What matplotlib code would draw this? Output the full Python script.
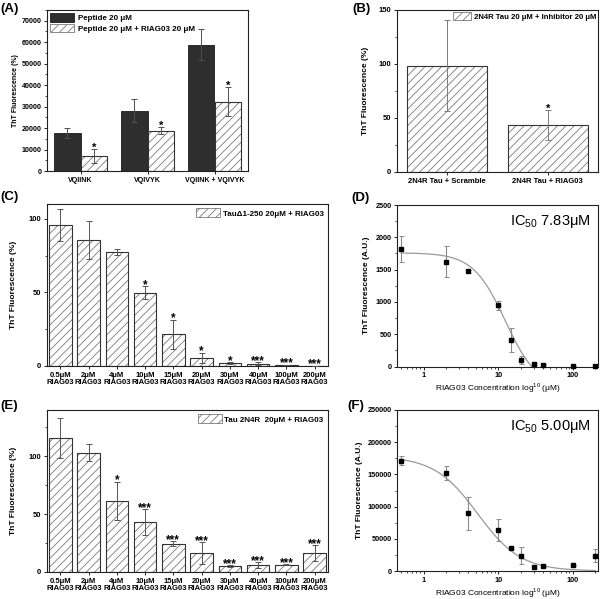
import numpy as np
import matplotlib
matplotlib.use("Agg")
import matplotlib.pyplot as plt
from matplotlib.ticker import AutoMinorLocator, FixedLocator, NullFormatter, LogLocator
from matplotlib.patches import Patch

plt.rcParams['font.family'] = ['Liberation Sans', 'DejaVu Sans']
plt.rcParams['font.weight'] = 'bold'
plt.rcParams['axes.labelweight'] = 'bold'
plt.rcParams['hatch.linewidth'] = 0.6
plt.rcParams['mathtext.fontset'] = 'custom'
plt.rcParams['mathtext.rm'] = 'Liberation Sans'

# ---------------- data ----------------
a_groups = ['VQIINK', 'VQIVYK', 'VQIINK + VQIVYK']
a_peptide = [17500, 28000, 58900]
a_peptide_err = [2300, 5400, 7200]
a_riag = [7000, 18700, 32200]
a_riag_err = [3200, 1600, 6700]
a_stars = ['*', '*', '*']

b_labels = ['2N4R Tau + Scramble', '2N4R Tau + RIAG03']
b_vals = [98.6, 43.5]
b_err = [42, 14]
b_stars = ['', '*']

conc_labels = ['0.5μM\nRIAG03', '2μM\nRIAG03', '4μM\nRIAG03', '10μM\nRIAG03',
               '15μM\nRIAG03', '20μM\nRIAG03', '30μM\nRIAG03', '40μM\nRIAG03',
               '100μM\nRIAG03', '200μM\nRIAG03']
c_vals = [95.9, 85.3, 77.4, 49.8, 21.5, 5.7, 2.0, 1.6, 0.7, 0.2]
c_err = [10.8, 12.9, 2.0, 4.2, 10.0, 3.4, 0.5, 0.8, 0.2, 0.1]
c_stars = ['', '', '', '*', '*', '*', '*', '***', '***', '***']

e_vals = [115.9, 103.2, 61.4, 43.2, 24.5, 16.4, 5.2, 5.8, 6.3, 16.4]
e_err = [17.5, 7.7, 16.6, 11.2, 1.9, 9.1, 0.6, 2.6, 0.5, 6.6]
e_stars = ['', '', '*', '***', '***', '***', '***', '***', '***', '***']

conc = [0.5, 2, 4, 10, 15, 20, 30, 40, 100, 200]
d_vals = [1820, 1624, 1474, 948, 412, 103, 36, 26, 5, 5]
d_err = [205, 237, 25, 70, 188, 65, 15, 8, 4, 4]
d_fit_top, d_fit_bottom, d_fit_x0, d_fit_p = 1760, -350, 12.5, 2.0

f_vals = [171000, 152400, 89900, 63500, 35600, 23800, 6200, 7700, 8800, 23800]
f_err = [7000, 10600, 25500, 16500, 1500, 13000, 800, 1000, 1000, 10300]
f_fit_top, f_fit_bottom, f_fit_x0, f_fit_p = 178000, 0, 5.3, 1.5

# ---------------- figure ----------------
W, H = 600, 599
fig = plt.figure(figsize=(6, 5.99), dpi=100)

def add_ax(x0, y0, x1, y1):
    return fig.add_axes([x0 / W, 1 - y1 / H, (x1 - x0) / W, (y1 - y0) / H])

EDGE = '#333333'
HATCHC = '#7a7a7a'
ERRC = '#555555'

def style(ax, ylabel, ylx, ysize=6, ylsize=5.5):
    for s in ax.spines.values():
        s.set_linewidth(0.8)
        s.set_color('#222222')
    ax.tick_params(axis='both', which='major', direction='out', length=2.5, width=0.6,
                   labelsize=ylsize, pad=1.5, top=False, right=False)
    ax.tick_params(axis='both', which='minor', direction='out', length=1.4, width=0.5,
                   top=False, right=False)
    ax.set_ylabel(ylabel, fontsize=ysize, fontweight='bold', va='center')
    ax.yaxis.set_label_coords(ylx, 0.5)

def hbars(ax, x, h, width):
    ax.bar(x, h, width, color='white', edgecolor=HATCHC, hatch='////', linewidth=0, zorder=2)
    ax.bar(x, h, width, fill=False, edgecolor=EDGE, linewidth=0.8, zorder=3)

def star_text(ax, x, top, s, size):
    ax.annotate(s, (x, top), xytext=(0, -1.2), textcoords='offset points',
                ha='center', va='baseline', fontsize=size, fontweight='bold', zorder=5)

def hatch_handle():
    return Patch(facecolor='white', edgecolor=HATCHC, hatch='////', linewidth=0.6)

# ---- Panel A ----
axA = add_ax(47, 10, 248, 171)
xa = np.arange(len(a_groups))
bw = 0.4
axA.bar(xa - bw / 2, a_peptide, bw, color='#2e2e2e', edgecolor='#1a1a1a', linewidth=0.6, zorder=2)
hbars(axA, xa + bw / 2, a_riag, bw)
axA.errorbar(xa - bw / 2, a_peptide, yerr=a_peptide_err, fmt='none', ecolor='#505050',
             elinewidth=0.7, capsize=2, capthick=0.7, zorder=4)
axA.errorbar(xa + bw / 2, a_riag, yerr=a_riag_err, fmt='none', ecolor='#505050',
             elinewidth=0.7, capsize=2, capthick=0.7, zorder=4)
for i, s in enumerate(a_stars):
    star_text(axA, xa[i] + bw / 2, a_riag[i] + a_riag_err[i], s, 8)
axA.set_xlim(-0.5, 2.5)
axA.set_ylim(0, 75000)
axA.set_yticks(np.arange(0, 70001, 10000))
axA.yaxis.set_minor_locator(AutoMinorLocator(2))
axA.set_xticks(xa)
axA.set_xticklabels(a_groups, fontsize=5)
style(axA, 'ThT Fluorescence (%)', -0.155, ysize=5, ylsize=5.1)
legA = axA.legend(handles=[Patch(facecolor='#2e2e2e', edgecolor='#1a1a1a', linewidth=0.6),
                           hatch_handle()],
                  labels=['Peptide 20 μM', 'Peptide 20 μM + RIAG03 20 μM'],
                  loc='upper left', frameon=False, fontsize=5.8, handlelength=3.0,
                  handleheight=1.3, handletextpad=0.4, borderaxespad=0.3, labelspacing=0.15,
                  borderpad=0.1)

# ---- Panel B ----
axB = add_ax(397, 10, 598, 172)
xb = np.arange(len(b_labels))
hbars(axB, xb, b_vals, 0.8)
axB.errorbar(xb, b_vals, yerr=b_err, fmt='none', ecolor='#7a7a7a', elinewidth=0.7,
             capsize=2, capthick=0.7, zorder=4)
for i, s in enumerate(b_stars):
    if s:
        star_text(axB, xb[i], b_vals[i] + b_err[i], s, 8)
axB.set_xlim(-0.5, 1.5)
axB.set_ylim(0, 150)
axB.set_yticks([0, 50, 100, 150])
axB.yaxis.set_minor_locator(AutoMinorLocator(2))
axB.set_xticks(xb)
axB.set_xticklabels(b_labels, fontsize=5)
style(axB, 'ThT Fluorescence (%)', -0.155)
axB.legend(handles=[hatch_handle()], labels=['2N4R Tau 20 μM + Inhibitor 20 μM'],
           loc='upper right', frameon=False, fontsize=5.6, handlelength=2.3,
           handleheight=1.2, handletextpad=0.3, borderaxespad=0.15, borderpad=0.1)

# ---- Panel C ----
axC = add_ax(47, 204, 328, 366)
xc = np.arange(len(conc_labels))
hbars(axC, xc, c_vals, 0.8)
axC.errorbar(xc, c_vals, yerr=c_err, fmt='none', ecolor=ERRC, elinewidth=0.7,
             capsize=2, capthick=0.7, zorder=4)
for i, s in enumerate(c_stars):
    if s:
        star_text(axC, xc[i], c_vals[i] + c_err[i], s, 8.5)
axC.set_xlim(-0.47, 9.47)
axC.set_ylim(0, 110)
axC.set_yticks([0, 50, 100])
axC.yaxis.set_minor_locator(AutoMinorLocator(2))
axC.set_xticks(xc)
axC.set_xticklabels(conc_labels, fontsize=4.8, linespacing=1.0)
style(axC, 'ThT Fluorescence (%)', -0.12)
axC.legend(handles=[hatch_handle()], labels=['TauΔ1-250 20μM + RIAG03'], loc='upper right',
           frameon=False, fontsize=5.8, handlelength=3.0, handleheight=1.3, handletextpad=0.3,
           borderaxespad=0.45, borderpad=0.1)

# ---- Panel E ----
axE = add_ax(47, 410, 328, 572)
hbars(axE, xc, e_vals, 0.8)
axE.errorbar(xc, e_vals, yerr=e_err, fmt='none', ecolor=ERRC, elinewidth=0.7,
             capsize=2, capthick=0.7, zorder=4)
for i, s in enumerate(e_stars):
    if s:
        star_text(axE, xc[i], e_vals[i] + e_err[i], s, 8.5)
axE.set_xlim(-0.47, 9.47)
axE.set_ylim(0, 140)
axE.set_yticks([0, 50, 100])
axE.yaxis.set_minor_locator(AutoMinorLocator(2))
axE.set_xticks(xc)
axE.set_xticklabels(conc_labels, fontsize=4.8, linespacing=1.0)
style(axE, 'ThT Fluorescence (%)', -0.12)
axE.legend(handles=[hatch_handle()], labels=['Tau 2N4R  20μM + RIAG03'], loc='upper right',
           frameon=False, fontsize=5.8, handlelength=3.0, handleheight=1.3, handletextpad=0.3,
           borderaxespad=0.45, borderpad=0.1)

# ---- Dose-response panels ----
def logistic(x, top, bottom, x0, p):
    return bottom + (top - bottom) / (1 + (x / x0) ** p)

def dose_panel(ax, vals, err, fit, ylim, yticks, ic_text, ylx):
    xs = np.geomspace(conc[0], conc[-1], 400)
    ax.plot(xs, logistic(xs, *fit), color='#9a9a9a', linewidth=0.9, zorder=2)
    ax.errorbar(conc, vals, yerr=err, fmt='none', ecolor='#8a8a8a', elinewidth=0.8,
                capsize=1.8, capthick=0.7, zorder=3)
    ax.plot(conc, vals, 's', color='black', markersize=3.3, zorder=4, clip_on=False)
    ax.set_xscale('log')
    ax.set_xlim(0.44, 218)
    ax.set_ylim(*ylim)
    ax.set_yticks(yticks)
    ax.yaxis.set_minor_locator(AutoMinorLocator(2))
    ax.xaxis.set_major_locator(FixedLocator([1, 10, 100]))
    ax.set_xticklabels(['1', '10', '100'], fontsize=4.8)
    ax.xaxis.set_minor_locator(LogLocator(base=10, subs=np.arange(2, 10), numticks=20))
    ax.xaxis.set_minor_formatter(NullFormatter())
    style(ax, 'ThT Fluorescence (A.U.)', ylx, ylsize=5.2)
    ax.set_xlabel(r'RIAG03 Concentration log$^{\mathregular{10}}$ (μM)', fontsize=6,
                  fontweight='normal', labelpad=1.5)
    ax.text(0.965, 0.895, ic_text, transform=ax.transAxes, ha='right', va='center',
            fontsize=10.5, fontweight='normal')

axD = add_ax(397, 205, 598, 366.5)
dose_panel(axD, d_vals, d_err, (d_fit_top, d_fit_bottom, d_fit_x0, d_fit_p), (0, 2500),
           [0, 500, 1000, 1500, 2000, 2500], r'IC$_{\mathregular{50}}$ 7.83μM', -0.15)

axF = add_ax(397, 410, 598, 571)
dose_panel(axF, f_vals, f_err, (f_fit_top, f_fit_bottom, f_fit_x0, f_fit_p), (0, 250000),
           [0, 50000, 100000, 150000, 200000, 250000], r'IC$_{\mathregular{50}}$ 5.00μM', -0.185)

# ---- panel letters ----
for lab, px, py in [('(A)', 0, 9), ('(B)', 352, 9), ('(C)', 0, 197), ('(D)', 351, 198),
                    ('(E)', 0, 406), ('(F)', 347, 406)]:
    fig.text(px / W, 1 - py / H, lab, ha='left', va='center', fontsize=9.5, fontweight='bold')

fig.savefig('out.png', dpi=100)
